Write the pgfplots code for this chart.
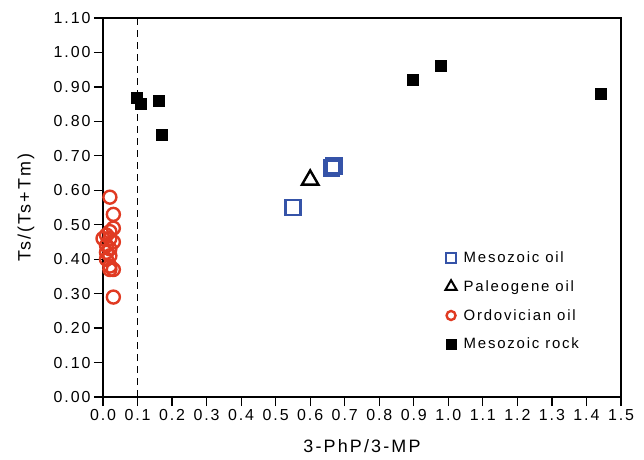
\documentclass[border=0pt]{standalone}
\usepackage{pgfplots}
\pgfplotsset{compat=1.18}
\usepackage{fontspec}
\setmainfont{Liberation Sans}[LetterSpace=12]
\definecolor{mblue}{HTML}{3553A8}
\definecolor{ored}{HTML}{E03A22}
\begin{document}
\begin{tikzpicture}
\begin{axis}[
  scale only axis,
  width=518bp, height=379bp,
  xmin=0, xmax=1.5, ymin=0, ymax=1.1,
  xtick={0,0.1,...,1.51}, ytick={0,0.1,...,1.101},
  tick align=outside, tick pos=left,
  major tick length=9bp,
  axis line style={line width=1.2bp},
  every tick/.style={black, line width=1.2bp},
  /pgf/number format/assume math mode=true,
  xticklabel style={font=\fontsize{16}{16}\selectfont, /pgf/number format/.cd, fixed, fixed zerofill, precision=1},
  yticklabel style={font=\fontsize{16}{16}\selectfont, /pgf/number format/.cd, fixed, fixed zerofill, precision=2},
  scaled ticks=false,
  every axis x label/.style={at={(axis description cs:0.5,0)}, yshift=-49bp, anchor=center},
  every axis y label/.style={at={(axis description cs:0,0.5)}, xshift=-77bp, rotate=90, anchor=center},
  xlabel={\fontsize{18}{18}\selectfont 3-PhP/3-MP},
  ylabel={\fontsize{18}{18}\selectfont Ts/(Ts+Tm)},
  legend style={draw=none, fill=none, at={(axis cs:0.991,0.428)}, anchor=north west, inner sep=0pt, row sep=12.5bp, font=\fontsize{15}{15}\selectfont, /tikz/every odd column/.append style={column sep=5bp}},
  legend cell align=left,
  clip=false,
]
\addplot[black, dashed, dash pattern=on 7bp off 5bp, line width=1.2bp, forget plot] coordinates {(0.1,0) (0.1,1.1)};

\addplot[only marks, mark=o, mark size=6.5bp, ored, line width=2.4bp, forget plot] coordinates {
(0.02,0.58) (0.03,0.53) (0.03,0.49) (0.02,0.48) (0.01,0.47) (0.00,0.46)
(0.02,0.46) (0.03,0.45) (0.01,0.44) (0.02,0.43) (0.01,0.42) (0.02,0.41)
(0.01,0.40) (0.02,0.38) (0.03,0.37) (0.02,0.37) (0.03,0.29)};

\addplot[only marks, mark=square, mark size=7.5bp, mblue, line width=2.5bp, forget plot] coordinates {
(0.55,0.55) (0.662,0.665) (0.669,0.671)};

\addplot[only marks, mark=triangle, mark size=9.5bp, black, line width=2.4bp, forget plot] coordinates {
(0.60,0.63)};

\addplot[only marks, mark=square*, mark size=5.5bp, black, forget plot] coordinates {
(0.098,0.87) (0.11,0.85) (0.16,0.86) (0.17,0.76) (0.898,0.92) (0.977,0.961) (1.44,0.88)};

\addlegendimage{only marks, mark=square, mark size=5bp, mblue, line width=2.2bp}
\addlegendentry{Mesozoic oil}
\addlegendimage{only marks, mark=triangle, mark size=6.5bp, black, line width=2bp}
\addlegendentry{Paleogene oil}
\addlegendimage{only marks, mark=o, mark size=4.5bp, ored, line width=2.4bp}
\addlegendentry{Ordovician oil}
\addlegendimage{only marks, mark=square*, mark size=5bp, black}
\addlegendentry{Mesozoic rock}
\end{axis}
\path ([shift={(-103bp,-63bp)}]current axis.south west) rectangle ([shift={(23bp,18bp)}]current axis.north east);
\end{tikzpicture}
\end{document}
